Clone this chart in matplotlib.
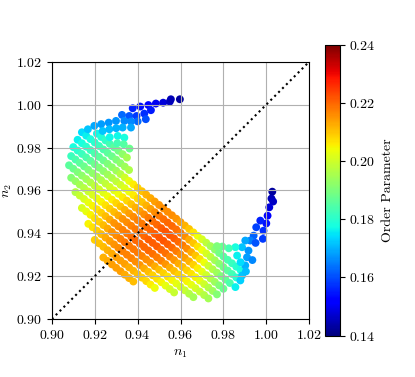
import numpy as np
import matplotlib.pyplot as plt

plt.rcParams['font.family'] = 'serif'
plt.rcParams['font.serif'] = ['cmr10']
plt.rcParams['mathtext.fontset'] = 'cm'
plt.rcParams['axes.formatter.use_mathtext'] = True

# main band, one line per row of the lattice (outer row first)
band_n1 = [
    0.924, 0.926, 0.928, 0.930, 0.932, 0.934, 0.936, 0.938,
    0.920, 0.922, 0.924, 0.926, 0.928, 0.930, 0.932, 0.934, 0.936, 0.938, 0.940, 0.942, 0.944, 0.946, 0.948,
    0.917, 0.919, 0.921, 0.923, 0.925, 0.927, 0.929, 0.931, 0.933, 0.935, 0.937, 0.939, 0.941, 0.943, 0.945, 0.947, 0.949, 0.951, 0.953, 0.955, 0.957,
    0.914, 0.916, 0.918, 0.920, 0.922, 0.924, 0.926, 0.928, 0.930, 0.932, 0.934, 0.936, 0.938, 0.940, 0.942, 0.944, 0.946, 0.948, 0.950, 0.952, 0.954, 0.956, 0.958, 0.960, 0.962, 0.964, 0.966,
    0.911, 0.913, 0.915, 0.917, 0.919, 0.921, 0.923, 0.925, 0.927, 0.929, 0.931, 0.933, 0.935, 0.937, 0.939, 0.941, 0.943, 0.945, 0.947, 0.949, 0.951, 0.953, 0.955, 0.957, 0.959, 0.961, 0.963, 0.965, 0.967, 0.969, 0.971, 0.973,
    0.909, 0.911, 0.913, 0.915, 0.917, 0.919, 0.921, 0.923, 0.925, 0.927, 0.929, 0.931, 0.933, 0.935, 0.937, 0.939, 0.941, 0.943, 0.945, 0.947, 0.949, 0.951, 0.953, 0.955, 0.957, 0.959, 0.961, 0.963, 0.965, 0.967, 0.969, 0.971, 0.973, 0.975, 0.977,
    0.908, 0.910, 0.912, 0.914, 0.916, 0.918, 0.920, 0.922, 0.924, 0.926, 0.928, 0.930, 0.932, 0.934, 0.936, 0.938, 0.940, 0.942, 0.944, 0.946, 0.948, 0.950, 0.952, 0.954, 0.956, 0.958, 0.960, 0.962, 0.964, 0.966, 0.968, 0.970, 0.972, 0.974, 0.976, 0.978, 0.980,
    0.909, 0.911, 0.913, 0.915, 0.917, 0.919, 0.921, 0.923, 0.925, 0.927, 0.929, 0.931, 0.933, 0.935, 0.937, 0.939, 0.941, 0.943, 0.945, 0.947, 0.949, 0.951, 0.953, 0.955, 0.957, 0.959, 0.961, 0.963, 0.965, 0.967, 0.969, 0.971, 0.973, 0.975, 0.977, 0.979, 0.981, 0.983,
    0.910, 0.912, 0.914, 0.916, 0.918, 0.920, 0.922, 0.924, 0.926, 0.928, 0.930, 0.932, 0.934, 0.936, 0.938, 0.940, 0.942, 0.944, 0.946, 0.948, 0.950, 0.952, 0.954, 0.956, 0.958, 0.960, 0.962, 0.964, 0.966, 0.968, 0.970, 0.972, 0.974, 0.976, 0.978, 0.980, 0.982, 0.984, 0.986,
    0.912, 0.914, 0.916, 0.918, 0.920, 0.922, 0.924, 0.926, 0.928, 0.930, 0.932, 0.934, 0.936, 0.938, 0.940, 0.942, 0.944, 0.946, 0.948, 0.950, 0.952, 0.954, 0.956, 0.958, 0.960, 0.962, 0.964, 0.966, 0.968, 0.970, 0.972, 0.974, 0.976, 0.978, 0.980, 0.982, 0.984, 0.986, 0.988,
    0.914, 0.916, 0.918, 0.920, 0.922, 0.924, 0.926, 0.928, 0.930, 0.932, 0.934, 0.936,
    0.921, 0.923, 0.925, 0.927, 0.929, 0.931, 0.933, 0.935,
]
band_n2 = [
    0.9287, 0.9271, 0.9255, 0.9239, 0.9223, 0.9207, 0.9191, 0.9175,
    0.9369, 0.9353, 0.9337, 0.9321, 0.9305, 0.9289, 0.9273, 0.9257, 0.9241, 0.9225, 0.9209, 0.9193, 0.9177, 0.9161, 0.9145,
    0.9444, 0.9428, 0.9412, 0.9396, 0.9380, 0.9364, 0.9348, 0.9332, 0.9316, 0.9300, 0.9284, 0.9268, 0.9252, 0.9236, 0.9220, 0.9204, 0.9188, 0.9172, 0.9156, 0.9140, 0.9124,
    0.9518, 0.9502, 0.9486, 0.9470, 0.9454, 0.9438, 0.9422, 0.9406, 0.9390, 0.9374, 0.9358, 0.9342, 0.9326, 0.9310, 0.9294, 0.9278, 0.9262, 0.9246, 0.9230, 0.9214, 0.9198, 0.9182, 0.9166, 0.9150, 0.9134, 0.9118, 0.9102,
    0.9592, 0.9576, 0.9560, 0.9544, 0.9528, 0.9512, 0.9496, 0.9480, 0.9464, 0.9448, 0.9432, 0.9416, 0.9400, 0.9384, 0.9368, 0.9352, 0.9336, 0.9320, 0.9304, 0.9288, 0.9272, 0.9256, 0.9240, 0.9224, 0.9208, 0.9192, 0.9176, 0.9160, 0.9144, 0.9128, 0.9112, 0.9096,
    0.9659, 0.9643, 0.9627, 0.9611, 0.9595, 0.9579, 0.9563, 0.9547, 0.9531, 0.9515, 0.9499, 0.9483, 0.9467, 0.9451, 0.9435, 0.9419, 0.9403, 0.9387, 0.9371, 0.9355, 0.9339, 0.9323, 0.9307, 0.9291, 0.9275, 0.9259, 0.9243, 0.9227, 0.9211, 0.9195, 0.9179, 0.9163, 0.9147, 0.9131, 0.9115,
    0.9717, 0.9701, 0.9685, 0.9669, 0.9653, 0.9637, 0.9621, 0.9605, 0.9589, 0.9573, 0.9557, 0.9541, 0.9525, 0.9509, 0.9493, 0.9477, 0.9461, 0.9445, 0.9429, 0.9413, 0.9397, 0.9381, 0.9365, 0.9349, 0.9333, 0.9317, 0.9301, 0.9285, 0.9269, 0.9253, 0.9237, 0.9221, 0.9205, 0.9189, 0.9173, 0.9157, 0.9141,
    0.9760, 0.9744, 0.9728, 0.9712, 0.9696, 0.9680, 0.9664, 0.9648, 0.9632, 0.9616, 0.9600, 0.9584, 0.9568, 0.9552, 0.9536, 0.9520, 0.9504, 0.9488, 0.9472, 0.9456, 0.9440, 0.9424, 0.9408, 0.9392, 0.9376, 0.9360, 0.9344, 0.9328, 0.9312, 0.9296, 0.9280, 0.9264, 0.9248, 0.9232, 0.9216, 0.9200, 0.9184, 0.9168,
    0.9802, 0.9786, 0.9770, 0.9754, 0.9738, 0.9722, 0.9706, 0.9690, 0.9674, 0.9658, 0.9642, 0.9626, 0.9610, 0.9594, 0.9578, 0.9562, 0.9546, 0.9530, 0.9514, 0.9498, 0.9482, 0.9466, 0.9450, 0.9434, 0.9418, 0.9402, 0.9386, 0.9370, 0.9354, 0.9338, 0.9322, 0.9306, 0.9290, 0.9274, 0.9258, 0.9242, 0.9226, 0.9210, 0.9194,
    0.9836, 0.9820, 0.9804, 0.9788, 0.9772, 0.9756, 0.9740, 0.9724, 0.9708, 0.9692, 0.9676, 0.9660, 0.9644, 0.9628, 0.9612, 0.9596, 0.9580, 0.9564, 0.9548, 0.9532, 0.9516, 0.9500, 0.9484, 0.9468, 0.9452, 0.9436, 0.9420, 0.9404, 0.9388, 0.9372, 0.9356, 0.9340, 0.9324, 0.9308, 0.9292, 0.9276, 0.9260, 0.9244, 0.9228,
    0.9871, 0.9855, 0.9839, 0.9823, 0.9807, 0.9791, 0.9775, 0.9759, 0.9743, 0.9727, 0.9711, 0.9695,
    0.9865, 0.9849, 0.9833, 0.9817, 0.9801, 0.9785, 0.9769, 0.9753,
]
band_op = [
    0.212, 0.213, 0.214, 0.214, 0.214, 0.213, 0.212, 0.211,
    0.209, 0.210, 0.211, 0.212, 0.213, 0.214, 0.214, 0.214, 0.213, 0.212, 0.211, 0.209, 0.208, 0.206, 0.204,
    0.205, 0.207, 0.209, 0.211, 0.213, 0.214, 0.215, 0.216, 0.217, 0.217, 0.217, 0.216, 0.215, 0.213, 0.211, 0.209, 0.207, 0.205, 0.203, 0.201, 0.199,
    0.201, 0.203, 0.205, 0.207, 0.209, 0.211, 0.213, 0.215, 0.216, 0.217, 0.218, 0.218, 0.218, 0.218, 0.217, 0.216, 0.215, 0.213, 0.211, 0.209, 0.207, 0.205, 0.203, 0.201, 0.199, 0.197, 0.195,
    0.197, 0.199, 0.201, 0.203, 0.205, 0.207, 0.209, 0.211, 0.213, 0.215, 0.216, 0.217, 0.218, 0.219, 0.220, 0.220, 0.220, 0.220, 0.219, 0.218, 0.217, 0.215, 0.213, 0.211, 0.209, 0.207, 0.205, 0.203, 0.201, 0.199, 0.197, 0.195,
    0.191, 0.193, 0.195, 0.197, 0.199, 0.201, 0.203, 0.205, 0.207, 0.209, 0.211, 0.213, 0.215, 0.216, 0.217, 0.218, 0.219, 0.220, 0.221, 0.221, 0.221, 0.220, 0.219, 0.217, 0.215, 0.213, 0.211, 0.209, 0.207, 0.205, 0.203, 0.200, 0.197, 0.194, 0.191,
    0.186, 0.188, 0.190, 0.192, 0.194, 0.196, 0.198, 0.200, 0.202, 0.204, 0.206, 0.208, 0.210, 0.212, 0.214, 0.216, 0.217, 0.218, 0.219, 0.220, 0.221, 0.222, 0.222, 0.221, 0.220, 0.218, 0.216, 0.214, 0.212, 0.209, 0.206, 0.203, 0.200, 0.197, 0.194, 0.191, 0.188,
    0.182, 0.184, 0.186, 0.188, 0.190, 0.192, 0.194, 0.196, 0.198, 0.200, 0.202, 0.204, 0.206, 0.208, 0.210, 0.212, 0.214, 0.216, 0.218, 0.219, 0.220, 0.221, 0.222, 0.222, 0.221, 0.220, 0.218, 0.216, 0.213, 0.210, 0.207, 0.204, 0.200, 0.197, 0.194, 0.190, 0.187, 0.184,
    0.178, 0.180, 0.182, 0.184, 0.186, 0.188, 0.190, 0.192, 0.194, 0.196, 0.198, 0.200, 0.202, 0.204, 0.206, 0.208, 0.210, 0.212, 0.214, 0.216, 0.218, 0.219, 0.220, 0.220, 0.219, 0.218, 0.216, 0.213, 0.210, 0.207, 0.204, 0.201, 0.198, 0.195, 0.192, 0.189, 0.186, 0.183, 0.180,
    0.176, 0.178, 0.180, 0.182, 0.184, 0.186, 0.188, 0.190, 0.192, 0.194, 0.197, 0.200, 0.203, 0.206, 0.208, 0.210, 0.212, 0.213, 0.214, 0.215, 0.216, 0.216, 0.216, 0.215, 0.214, 0.212, 0.210, 0.207, 0.204, 0.201, 0.198, 0.195, 0.192, 0.189, 0.186, 0.184, 0.182, 0.180, 0.178,
    0.174, 0.176, 0.178, 0.180, 0.182, 0.184, 0.186, 0.188, 0.190, 0.192, 0.194, 0.196,
    0.177, 0.179, 0.181, 0.183, 0.186, 0.189, 0.192, 0.195,
]

# upper-left arc, rows along the arc (outermost first)
arc_n1 = [
    0.9377, 0.9412, 0.9450, 0.9485, 0.9519, 0.9550, 0.9555, 0.9597,
    0.9327, 0.9361, 0.9395, 0.9431, 0.9462,
    0.9400, 0.9438,
    0.9168, 0.9198, 0.9230, 0.9265, 0.9299, 0.9338, 0.9369,
    0.9237, 0.9268, 0.9300, 0.9330, 0.9369,
    0.9270, 0.9307, 0.9338,
    0.9305, 0.9335, 0.9362,
]
arc_n2 = [
    0.9983, 0.9991, 0.9998, 1.0005, 1.0009, 1.0014, 1.0025, 1.0025,
    0.9952, 0.9947, 0.9947, 0.9958, 0.9974,
    0.9922, 0.9932,
    0.9885, 0.9901, 0.9909, 0.9916, 0.9924, 0.9924, 0.9921,
    0.9877, 0.9885, 0.9890, 0.9893, 0.9893,
    0.9848, 0.9854, 0.9846,
    0.9820, 0.9815, 0.9795,
]
arc_op = [
    0.156, 0.154, 0.152, 0.150, 0.148, 0.146, 0.145, 0.143,
    0.163, 0.161, 0.158, 0.157, 0.155,
    0.163, 0.160,
    0.172, 0.169, 0.168, 0.167, 0.167, 0.166, 0.166,
    0.172, 0.171, 0.170, 0.170, 0.169,
    0.177, 0.177, 0.178,
    0.183, 0.185, 0.188,
]

# right arm going up to the tip
arm_n1 = [1.0028, 1.0024, 1.0032, 1.0014, 1.0006, 1.0000, 0.9972, 0.9987, 0.9953,
          0.9984, 0.9941, 0.9925, 0.9902, 0.9887, 0.9917, 0.9910, 0.9902, 0.9887,
          0.9879, 0.9856, 0.9864, 0.9856, 0.9825, 0.9795, 0.9770, 0.9880,
          0.9950, 0.9935, 0.9905]
arm_n2 = [0.9594, 0.9562, 0.9548, 0.9521, 0.9482, 0.9446, 0.9459, 0.9412, 0.9428,
          0.9374, 0.9389, 0.9366, 0.9366, 0.9335, 0.9319, 0.9288, 0.9250, 0.9203,
          0.9180, 0.9149, 0.9296, 0.9335, 0.9330, 0.9338, 0.9340, 0.9265,
          0.9355, 0.9275, 0.9222]
arm_op = [0.143, 0.145, 0.146, 0.148, 0.151, 0.154, 0.156, 0.157, 0.159,
          0.158, 0.162, 0.165, 0.169, 0.172, 0.167, 0.168, 0.170, 0.172,
          0.173, 0.176, 0.176, 0.178, 0.183, 0.187, 0.190, 0.174,
          0.161, 0.166, 0.171]

ticks = [0.90, 0.92, 0.94, 0.96, 0.98, 1.00, 1.02]

n1 = np.concatenate([band_n1, arc_n1, arm_n1])
n2 = np.concatenate([band_n2, arc_n2, arm_n2])
op = np.concatenate([band_op, arc_op, arm_op])

fig, ax = plt.subplots(figsize=(4.15, 3.77), dpi=100)
sc = ax.scatter(n1, n2, c=op, cmap='jet', vmin=0.14, vmax=0.24, s=32, linewidths=0)
ax.plot([0.90, 1.02], [0.90, 1.02], 'k:', lw=1.5)

ax.set_xlim(0.90, 1.02)
ax.set_ylim(0.90, 1.02)
ax.set_xticks(ticks)
ax.set_yticks(ticks)
ax.set_aspect('equal')
ax.grid(True)
ax.set_xlabel('$n_1$')
ax.set_ylabel('$n_2$', labelpad=1)

fig.colorbar(sc, ax=ax, label='Order Parameter')
fig.savefig('out.png', dpi=100)
